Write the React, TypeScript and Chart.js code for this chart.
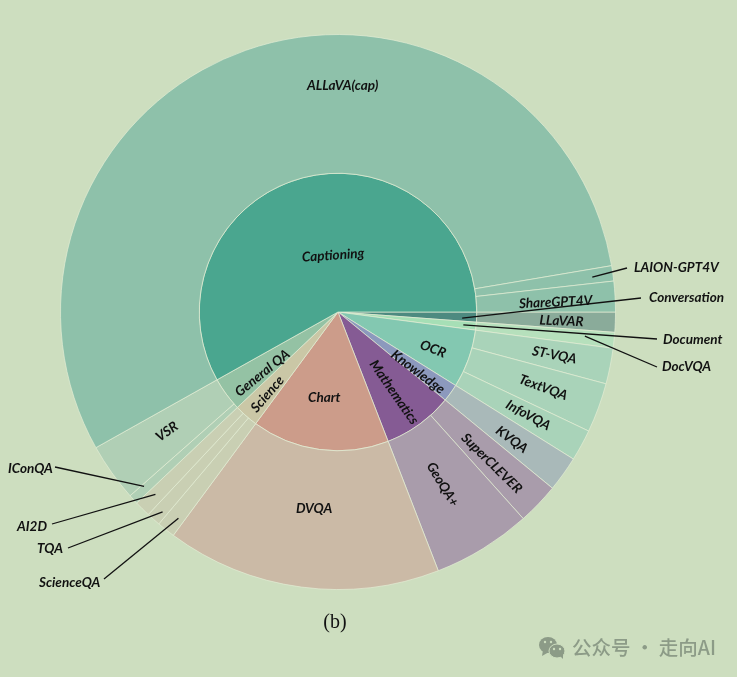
import React, { useEffect, useRef } from "react";
import { Chart, registerables } from "chart.js";

Chart.register(...registerables);

const innerLabels = ["Conversation", "Document", "OCR", "Knowledge", "Mathematics", "Chart", "Science", "General QA", "Captioning"];
const innerValues = [1.17, 0.92, 6.8, 2.06, 8.17, 16.0, 2.81, 3.95, 58.14];
const innerColors = ["#4d8a80", "#a6dfb6", "#83c8b1", "#8c99bd", "#855b94", "#cc9c8a", "#cac7a6", "#94c2a4", "#4aa68f"];

const outerLabels = ["LLaVAR", "DocVQA", "ST-VQA", "TextVQA", "InfoVQA", "KVQA", "SuperCLEVER", "GeoQA+", "DVQA", "ScienceQA", "TQA", "AI2D", "IConQA", "VSR", "ALLaVA(cap)", "LAION-GPT4V", "ShareGPT4V"];
const outerValues = [1.17, 0.92, 2.08, 2.89, 1.83, 2.06, 2.42, 5.75, 16.0, 1.06, 0.81, 0.94, 0.56, 3.39, 55.47, 0.89, 1.78];
const outerColors = ["#8aab9a", "#b6e0bc", "#a9d3b9", "#a9d3b9", "#a9d3b9", "#a9b9b9", "#a99cab", "#a99cab", "#cbbaa6", "#c9cfb3", "#c9cfb3", "#c9cfb3", "#b0cfb5", "#b0cfb5", "#8ec1aa", "#8ec1aa", "#8ec1aa"];

// label placement: [angle shift in degrees, distance from centre as a fraction of the chart radius, fixed rotation or null for radial]
const labelTweaks: Record<string, [number, number, number | null]> = {
  Captioning: [9.7, 0.205, -4],
  "ALLaVA(cap)": [20.6, 0.815, 0],
  Chart: [1.5, 0.313, 0],
  DVQA: [-0.7, 0.715, 0],
  OCR: [1.5, 0.367, null],
  Knowledge: [1.2, 0.36, null],
  Mathematics: [1, 0.353, null],
  Science: [-0.8, 0.39, null],
  "General QA": [-2.6, 0.35, null],
  "ST-VQA": [0, 0.795, null],
  TextVQA: [0, 0.788, null],
  InfoVQA: [-0.2, 0.78, null],
  KVQA: [0.6, 0.777, null],
  SuperCLEVER: [0.8, 0.777, null],
  "GeoQA+": [0.3, 0.727, null],
  VSR: [0.4, 0.752, null],
  ShareGPT4V: [0.6, 0.785, null],
  LLaVAR: [0.2, 0.806, null],
};

// outside labels: name -> [radius fraction of leader start, angle shift, leader end x, leader end y, text x, text y, text anchor]
const leaders: Record<string, [number, number, number, number, number, number, CanvasTextAlign]> = {
  "LAION-GPT4V": [0.925, 0.2, 627, 268, 634, 268, "left"],
  Conversation: [0.448, 0.7, 641, 298, 649, 298, "left"],
  Document: [0.454, 0, 657, 339, 663, 340, "left"],
  DocVQA: [0.894, -0.3, 657, 367, 662, 367, "left"],
  IConQA: [0.94, 0.5, 55, 467, 8, 469, "left"],
  AI2D: [0.93, 0.2, 52, 524, 17, 527, "left"],
  TQA: [0.958, -0.4, 68, 548, 37, 549, "left"],
  ScienceQA: [0.94, -0.6, 104, 579, 39, 583, "left"],
};

const LABEL_FONT = "italic 700 13.5px Lato";

const labelPlugin = {
  id: "sunburstLabels",
  afterDraw(chart: any) {
    const c: CanvasRenderingContext2D = chart.ctx;
    const names = [outerLabels, innerLabels];
    c.save();
    c.font = LABEL_FONT;
    c.fillStyle = "#111";
    c.textBaseline = "middle";
    names.forEach((list, di) => {
      chart.getDatasetMeta(di).data.forEach((arc: any, i: number) => {
        const name = list[i];
        const mid = (arc.startAngle + arc.endAngle) / 2;
        const R = chart.getDatasetMeta(0).data[0].outerRadius;
        const tw = labelTweaks[name];
        if (tw) {
          const a = mid + (tw[0] * Math.PI) / 180;
          const r = tw[1] * R;
          let rot = tw[2] === null ? a : (tw[2] * Math.PI) / 180;
          if (Math.cos(rot) < 0) rot += Math.PI;
          c.save();
          c.translate(arc.x + r * Math.cos(a), arc.y + r * Math.sin(a));
          c.rotate(rot);
          c.textAlign = "center";
          c.fillText(name, 0, 0);
          c.restore();
        }
        const ld = leaders[name];
        if (ld) {
          const a = mid + (ld[1] * Math.PI) / 180;
          const r = ld[0] * R;
          c.beginPath();
          c.moveTo(arc.x + r * Math.cos(a), arc.y + r * Math.sin(a));
          c.lineTo(ld[2], ld[3]);
          c.strokeStyle = "#111";
          c.lineWidth = 1.3;
          c.stroke();
          c.textAlign = ld[6];
          c.fillText(name, ld[4], ld[5]);
        }
      });
    });
    // caption
    c.font = "20px 'Liberation Serif'";
    c.textAlign = "center";
    c.fillStyle = "#111";
    c.fillText("(b)", 335, 623);
    // watermark
    c.font = "500 19.5px 'Noto Sans CJK SC'";
    c.textAlign = "left";
    c.fillStyle = "#8c9b87";
    c.fillText("公众号 · 走向AI", 572, 648);
    c.beginPath();
    c.ellipse(548, 645, 9, 8, 0, 0, Math.PI * 2);
    c.fill();
    c.beginPath();
    c.moveTo(543, 650);
    c.lineTo(542, 656);
    c.lineTo(549, 652);
    c.fill();
    c.strokeStyle = "#cddebf";
    c.lineWidth = 1;
    c.beginPath();
    c.ellipse(557, 651, 8, 7, 0, 0, Math.PI * 2);
    c.fill();
    c.stroke();
    c.beginPath();
    c.moveTo(560, 656);
    c.lineTo(563, 659);
    c.lineTo(563, 654);
    c.fill();
    c.fillStyle = "#cddebf";
    [[545, 642], [551, 642], [554, 649], [560, 649]].forEach(([x, y]) => {
      c.beginPath();
      c.arc(x, y, 1.2, 0, Math.PI * 2);
      c.fill();
    });
    c.restore();
  },
};

export default function App() {
  const ref = useRef<HTMLCanvasElement>(null);
  useEffect(() => {
    const border = "rgba(226,236,212,0.7)";
    const chart = new Chart(ref.current as HTMLCanvasElement, {
      type: "doughnut",
      data: {
        labels: outerLabels,
        datasets: [
          { data: outerValues, backgroundColor: outerColors, borderColor: border, borderWidth: 1 },
          { data: innerValues, backgroundColor: innerColors, borderColor: border, borderWidth: 1 },
        ],
      },
      options: {
        responsive: false,
        animation: false,
        rotation: 90,
        cutout: 0,
        layout: { padding: { left: 60, right: 121, top: 34, bottom: 87 } },
        plugins: { legend: { display: false }, tooltip: { enabled: false } },
      },
      plugins: [labelPlugin],
    } as any);
    return () => chart.destroy();
  }, []);
  return (
    <div style={{ position: "fixed", left: 0, top: 0, width: 737, height: 677, background: "#cddebf" }}>
      <canvas ref={ref} width={737} height={677} style={{ display: "block" }} />
    </div>
  );
}
